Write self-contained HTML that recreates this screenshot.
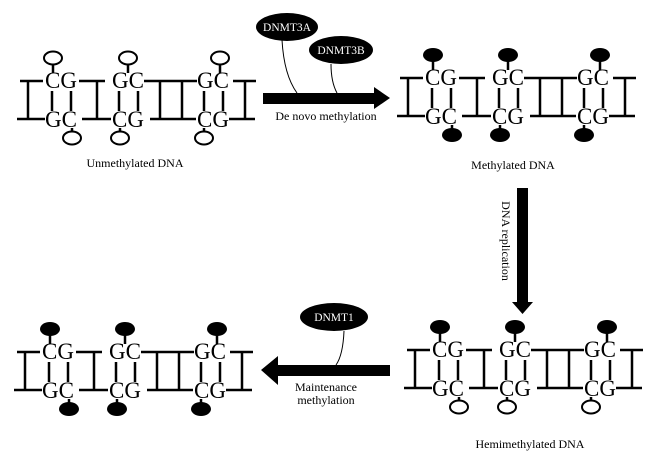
<!DOCTYPE html>
<html><head><meta charset="utf-8"><style>
html,body{margin:0;padding:0;background:#fff;width:657px;height:464px;overflow:hidden}
svg{display:block}
.b{font-family:"Liberation Serif",serif;font-size:23px;fill:#000}
.l{font-family:"Liberation Serif",serif;font-size:12px;fill:#000}
.w{font-family:"Liberation Serif",serif;font-size:11.5px;fill:#fff}
</style></head><body>
<svg width="657" height="464" viewBox="0 0 657 464" xmlns="http://www.w3.org/2000/svg">
<!-- Unmethylated -->
<g transform="translate(0,0)">
<path d="M28 81V119M20 81H43M17 119H45M79 81H105M97 81V119M82 119H111M144 81H197M160 81V119M182 81V119M150 119H196M233 81H256M245 81V119M229 119H255M52 91V111M71 91V111M119 91V111M138 91V111M204 91V111M223 91V111M53 64V73M72 128V132M128 64V73M120 128V132M220 64V73M204 128V132" stroke="#000" stroke-width="2.5" fill="none"/>
<text class="b" x="45" y="88">CG</text><text class="b" x="45" y="127">GC</text>
<text class="b" x="112" y="88">GC</text><text class="b" x="112" y="127">CG</text>
<text class="b" x="197" y="88">GC</text><text class="b" x="197" y="127">CG</text>
<g fill="#fff" stroke="#000" stroke-width="2"><ellipse cx="53" cy="58" rx="9" ry="6.5"/><ellipse cx="128" cy="58" rx="9" ry="6.5"/><ellipse cx="220" cy="58" rx="9" ry="6.5"/><ellipse cx="72" cy="138" rx="9" ry="6.5"/><ellipse cx="120" cy="138" rx="9" ry="6.5"/><ellipse cx="204" cy="138" rx="9" ry="6.5"/></g>
</g>
<text class="l" x="135" y="167" text-anchor="middle">Unmethylated DNA</text>
<!-- Methylated -->
<g transform="translate(380,-3)">
<path d="M28 81V119M20 81H43M17 119H45M79 81H105M97 81V119M82 119H111M144 81H197M160 81V119M182 81V119M150 119H196M233 81H256M245 81V119M229 119H255M52 91V111M71 91V111M119 91V111M138 91V111M204 91V111M223 91V111M53 64V73M72 128V132M128 64V73M120 128V132M220 64V73M204 128V132" stroke="#000" stroke-width="2.5" fill="none"/>
<text class="b" x="45" y="88">CG</text><text class="b" x="45" y="127">GC</text>
<text class="b" x="112" y="88">GC</text><text class="b" x="112" y="127">CG</text>
<text class="b" x="197" y="88">GC</text><text class="b" x="197" y="127">CG</text>
<g fill="#000"><ellipse cx="53" cy="58" rx="10" ry="7"/><ellipse cx="128" cy="58" rx="10" ry="7"/><ellipse cx="220" cy="58" rx="10" ry="7"/><ellipse cx="72" cy="138" rx="10" ry="7"/><ellipse cx="120" cy="138" rx="10" ry="7"/><ellipse cx="204" cy="138" rx="10" ry="7"/></g>
</g>
<text class="l" x="513" y="169" text-anchor="middle">Methylated DNA</text>
<!-- Hemimethylated -->
<g transform="translate(387,269)">
<path d="M28 81V119M20 81H43M17 119H45M79 81H105M97 81V119M82 119H111M144 81H197M160 81V119M182 81V119M150 119H196M233 81H256M245 81V119M229 119H255M52 91V111M71 91V111M119 91V111M138 91V111M204 91V111M223 91V111M53 64V73M72 128V132M128 64V73M120 128V132M220 64V73M204 128V132" stroke="#000" stroke-width="2.5" fill="none"/>
<text class="b" x="45" y="88">CG</text><text class="b" x="45" y="127">GC</text>
<text class="b" x="112" y="88">GC</text><text class="b" x="112" y="127">CG</text>
<text class="b" x="197" y="88">GC</text><text class="b" x="197" y="127">CG</text>
<g fill="#000"><ellipse cx="53" cy="58" rx="10" ry="7"/><ellipse cx="128" cy="58" rx="10" ry="7"/><ellipse cx="220" cy="58" rx="10" ry="7"/></g>
<g fill="#fff" stroke="#000" stroke-width="2"><ellipse cx="72" cy="138" rx="9" ry="6.5"/><ellipse cx="120" cy="138" rx="9" ry="6.5"/><ellipse cx="204" cy="138" rx="9" ry="6.5"/></g>
</g>
<text class="l" x="530" y="448" text-anchor="middle">Hemimethylated DNA</text>
<!-- Bottom-left methylated -->
<g transform="translate(-3,271)">
<path d="M28 81V119M20 81H43M17 119H45M79 81H105M97 81V119M82 119H111M144 81H197M160 81V119M182 81V119M150 119H196M233 81H256M245 81V119M229 119H255M52 91V111M71 91V111M119 91V111M138 91V111M204 91V111M223 91V111M53 64V73M72 128V132M128 64V73M120 128V132M220 64V73M204 128V132" stroke="#000" stroke-width="2.5" fill="none"/>
<text class="b" x="45" y="88">CG</text><text class="b" x="45" y="127">GC</text>
<text class="b" x="112" y="88">GC</text><text class="b" x="112" y="127">CG</text>
<text class="b" x="197" y="88">GC</text><text class="b" x="197" y="127">CG</text>
<g fill="#000"><ellipse cx="53" cy="58" rx="10" ry="7"/><ellipse cx="128" cy="58" rx="10" ry="7"/><ellipse cx="220" cy="58" rx="10" ry="7"/><ellipse cx="72" cy="138" rx="10" ry="7"/><ellipse cx="120" cy="138" rx="10" ry="7"/><ellipse cx="204" cy="138" rx="10" ry="7"/></g>
</g>
<!-- Top arrow -->
<polygon points="263,93 374,93 374,87 390,98 374,109 374,104 263,104" fill="#000"/>
<path d="M282 40 Q284 75 297 93M331 64 Q331 82 337 93" stroke="#000" stroke-width="1" fill="none"/>
<ellipse cx="287" cy="27" rx="31" ry="14" fill="#000"/>
<text class="w" x="287" y="31" text-anchor="middle">DNMT3A</text>
<ellipse cx="341" cy="50" rx="32" ry="14" fill="#000"/>
<text class="w" x="341" y="54" text-anchor="middle">DNMT3B</text>
<text class="l" x="326" y="120" text-anchor="middle">De novo methylation</text>
<!-- Down arrow -->
<polygon points="517,188 528,188 528,302 533,302 522.5,314 512,302 517,302" fill="#000"/>
<text class="l" transform="translate(502,241) rotate(90)" text-anchor="middle">DNA replication</text>
<!-- Left arrow -->
<polygon points="390,365 278,365 278,356 261,370 278,385 278,376 390,376" fill="#000"/>
<path d="M344 331 Q343 355 336 365" stroke="#000" stroke-width="1" fill="none"/>
<ellipse cx="334" cy="317" rx="34" ry="14" fill="#000"/>
<text class="w" x="334" y="321" text-anchor="middle">DNMT1</text>
<text class="l" x="326" y="391" text-anchor="middle">Maintenance</text>
<text class="l" x="326" y="404" text-anchor="middle">methylation</text>
</svg>
</body></html>
